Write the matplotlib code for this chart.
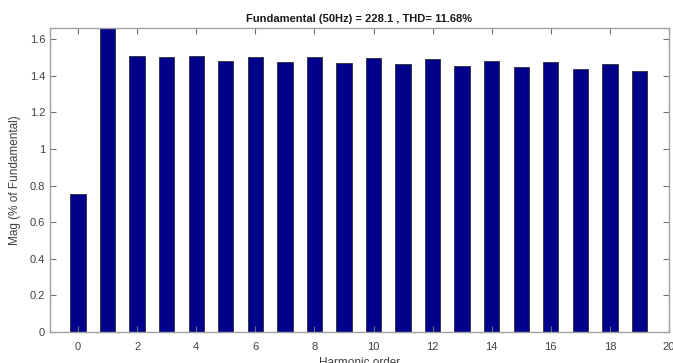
import matplotlib
matplotlib.use("Agg")
import matplotlib.pyplot as plt
import numpy as np

# harmonic spectrum
harmonics = list(range(20))
mag = [0.756, 2.00, 1.510, 1.503, 1.509, 1.483, 1.505, 1.474, 1.502, 1.469,
       1.496, 1.463, 1.491, 1.456, 1.483, 1.447, 1.474, 1.440, 1.467, 1.429]
xticks = list(range(0, 21, 2))
yticks = [0, 0.2, 0.4, 0.6, 0.8, 1, 1.2, 1.4, 1.6]
ytick_labels = ["0", "0.2", "0.4", "0.6", "0.8", "1", "1.2", "1.4", "1.6"]

plt.rcParams['font.family'] = ['Liberation Sans', 'DejaVu Sans']

fig = plt.figure(figsize=(6.73, 3.63), dpi=100)
ax = fig.add_axes([0.0743, 0.0854, 0.9197, 0.8376])

ax.bar(harmonics, mag, width=0.52, color="#00008b", edgecolor="#1a1a1a", linewidth=0.5)

ax.set_xlim(-0.95, 20)
ax.set_ylim(0, 1.662)
ax.set_xticks(xticks)
ax.set_yticks(yticks)
ax.set_yticklabels(ytick_labels)

for s in ax.spines.values():
    s.set_color("#a0a0a0")
    s.set_linewidth(1.0)
ax.tick_params(direction="in", top=True, right=True, colors="#707070",
               labelcolor="#404040", labelsize=8, length=4, width=0.8)
ax.tick_params(axis="x", pad=7)

ax.set_title("Fundamental (50Hz) = 228.1 , THD= 11.68%", fontsize=8,
             fontweight="bold", color="#1a1a1a", pad=4)
ax.set_xlabel("Harmonic order", fontsize=8.5, color="#404040", labelpad=4)
ax.set_ylabel("Mag (% of Fundamental)", fontsize=8.5, color="#404040", labelpad=6)

fig.savefig("out.png", dpi=100)
